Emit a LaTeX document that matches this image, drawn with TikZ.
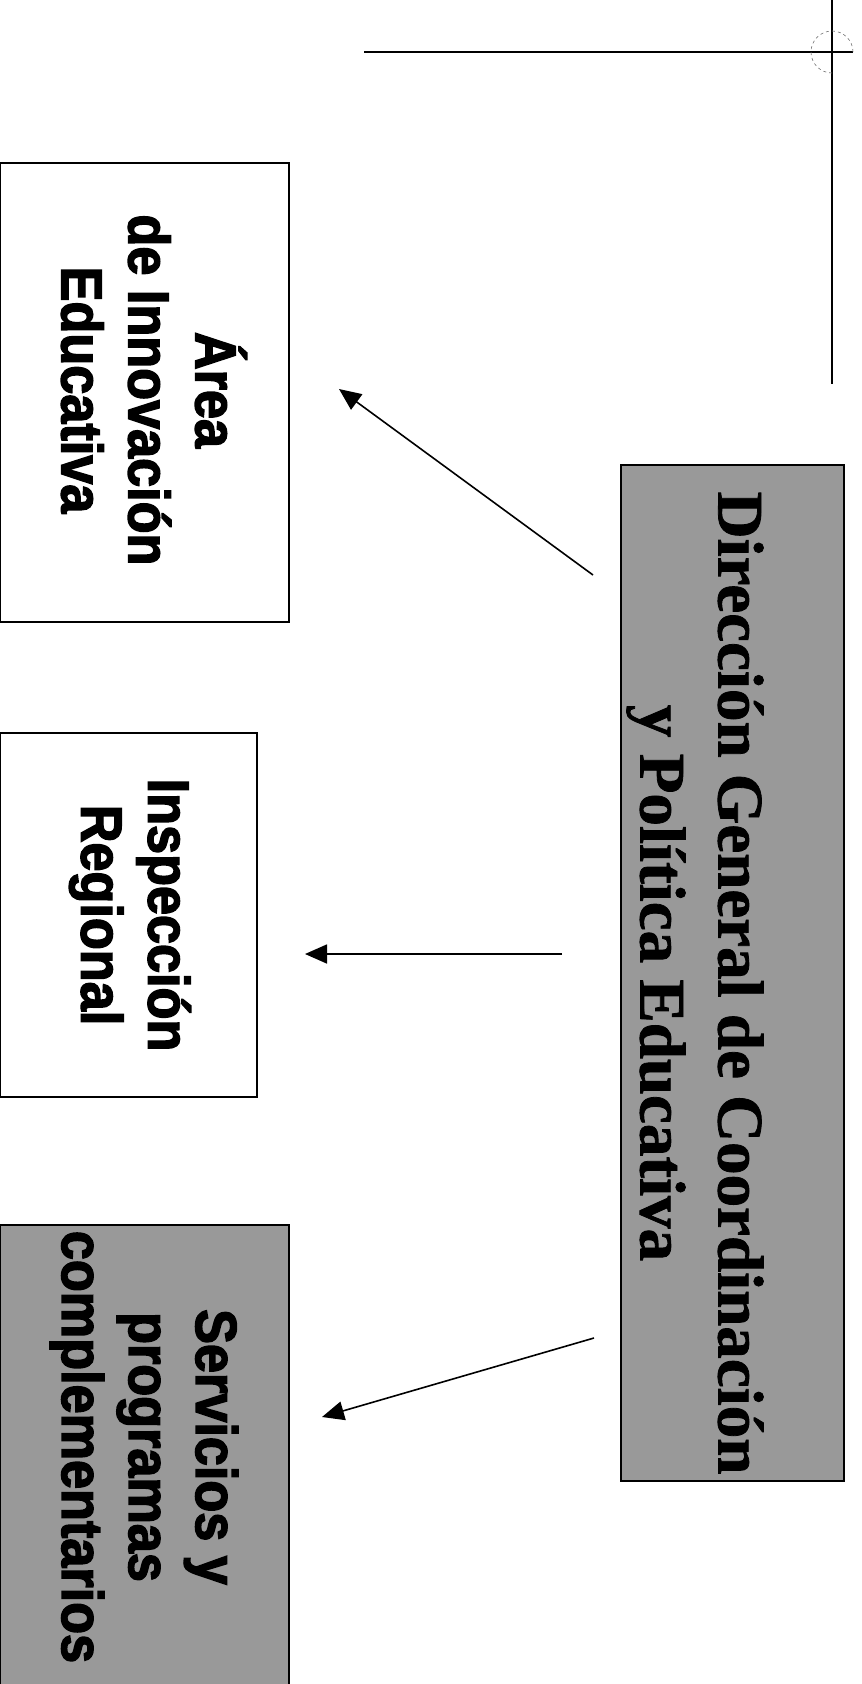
\documentclass[tikz,border=0pt]{standalone}
\usepackage{fontspec}
\setmainfont{Liberation Serif}[BoldFeatures={FakeBold=1.2}]
\newfontfamily\hsans{Liberation Sans}[FakeStretch=0.9, BoldFeatures={FakeBold=2.5}]
\usetikzlibrary{arrows.meta}
\tikzset{
  box/.style={draw=black, line width=1.8pt, inner sep=0pt, rotate=-90, align=center},
  sanslabel/.style={font=\hsans\bfseries\fontsize{58}{67}\selectfont, rotate=-90, align=center, inner sep=0pt},
  seriflabel/.style={font=\bfseries\fontsize{65}{78}\selectfont, rotate=-90, align=center, inner sep=0pt},
  grayfill/.style={fill=black!40},
  link/.style={line width=1.6pt, -{Triangle[length=22pt,width=19pt]}},
  crop/.style={line width=1.6pt},
  cropcircle/.style={line width=0.6pt, draw=black!55, dashed},
}
\begin{document}
\begin{tikzpicture}[x=1pt,y=-1pt]
\useasboundingbox (0,0) rectangle (862,1684);
% crop mark
\draw[crop] (364,52) -- (853,52);
\draw[crop] (832,0) -- (832,384);
\draw[cropcircle] (853,52) arc[start angle=0, end angle=-270, radius=21];
% boxes
\node[box, fill=white, minimum width=459pt, minimum height=289pt] (area) at (144.5,392.5) {};
\node[sanslabel] (areatext) at (154,390) {Área\\de Innovación\\Educativa};
\node[box, fill=white, minimum width=364pt, minimum height=257pt] (insp) at (128.5,915) {};
\node[sanslabel] (insptext) at (130,915) {Inspección\\Regional};
\node[box, grayfill, minimum width=520pt, minimum height=289pt] (serv) at (144.5,1485) {};
\node[sanslabel] (servtext) at (144,1447) {Servicios y\\programas\\complementarios};
\node[box, grayfill, minimum width=1016pt, minimum height=223pt] (dir) at (732.5,973) {};
\node[seriflabel] (dirtext) at (695,983) {Dirección General de Coordinación\\y Política Educativa};
% connectors
\coordinate (a1s) at (593,575);
\coordinate (a1e) at (339,389);
\coordinate (a2s) at (562,954);
\coordinate (a2e) at (305,954);
\coordinate (a3s) at (594,1338);
\coordinate (a3e) at (322,1417);
\draw[link] (a1s) -- (a1e);
\draw[link] (a2s) -- (a2e);
\draw[link] (a3s) -- (a3e);
\end{tikzpicture}
\end{document}
